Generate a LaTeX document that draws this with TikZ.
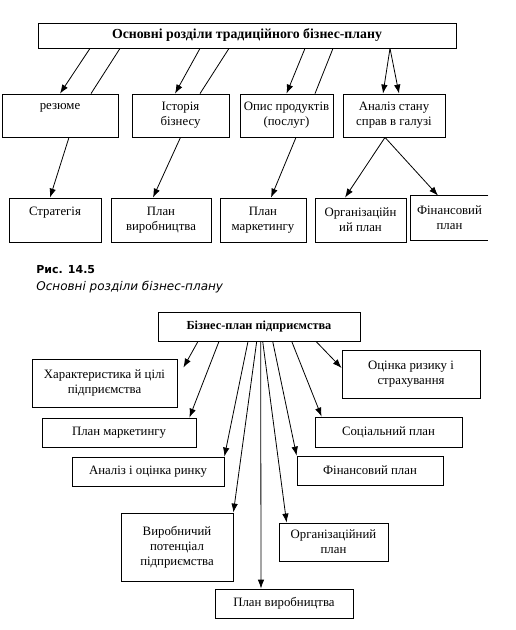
\documentclass[tikz,border=0pt]{standalone}
\usepackage{fontspec}
\setmainfont{Liberation Serif}
\newfontfamily\capfont{DejaVu Sans}
\usetikzlibrary{shapes,arrows.meta,calc}

\begin{document}
\begin{tikzpicture}[x=1pt, y=-1pt, line width=0.8pt, >={Latex[length=9pt,width=6.5pt]},
    box/.style={rectangle, draw, align=center, inner sep=1pt, font=\fontsize{12.8}{14.8}\selectfont},
    headbox/.style={box, font=\fontsize{13.8}{15}\selectfont\bfseries},
    capline/.style={anchor=west, inner sep=0pt}]
    \useasboundingbox (0,0) rectangle (515,630);

    % traditional plan
    \node (title) [headbox, minimum width=418pt, minimum height=25pt] at (247,35.5) {Основні розділи традиційного бізнес-плану};

    \node (rez) [box, minimum width=116pt, minimum height=43pt] at (60,115.5) {резюме\\\phantom{резюме}};
    \node (ist) [box, minimum width=97pt, minimum height=43pt] at (180.5,115.5) {Історія\\бізнесу};
    \node (opys) [box, minimum width=93pt, minimum height=43pt] at (286.5,115.5) {Опис продуктів\\(послуг)};
    \node (anal) [box, minimum width=102pt, minimum height=43pt] at (394,115.5) {Аналіз стану\\справ в галузі};

    \node (strat) [box, minimum width=92pt, minimum height=44pt] at (55,220) {Стратегія\\\phantom{Стратегія}};
    \node (pvyr) [box, minimum width=100pt, minimum height=44pt] at (161,220) {План\\виробництва};
    \node (pmark) [box, minimum width=86pt, minimum height=44pt] at (263,220) {План\\маркетингу};
    \node (org) [box, minimum width=91pt, minimum height=44pt] at (360.5,220) {Організаційн\\ий план};
    \node (fin) [box, draw=none, minimum width=77pt, minimum height=44pt] at (449.5,218) {Фінансовий\\план};
    \draw (fin.north east) -- (fin.north west) -- (fin.south west) -- (fin.south east);

    \draw [->] ([xshift=-157pt]title.south) -- (rez.north);
    \draw ([xshift=-127pt]title.south) -- ([xshift=31pt]rez.north);
    \draw [->] ([xshift=-47pt]title.south) -- ([xshift=-5.5pt]ist.north);
    \draw ([xshift=-18pt]title.south) -- ([xshift=19.5pt]ist.north);
    \draw [->] ([xshift=58pt]title.south) -- (opys.north);
    \draw ([xshift=86pt]title.south) -- ([xshift=28.5pt]opys.north);
    \draw [->] ([xshift=143pt]title.south) -- ([xshift=-11pt]anal.north);
    \draw [->] ([xshift=143pt]title.south) -- ([xshift=5pt]anal.north);

    \draw [->] ([xshift=9pt]rez.south) -- ([xshift=-5pt]strat.north);
    \draw [->] (ist.south) -- ([xshift=-8pt]pvyr.north);
    \draw [->] ([xshift=9.5pt]opys.south) -- ([xshift=8pt]pmark.north);
    \draw [->] ([xshift=-9pt]anal.south) -- ([xshift=-15.5pt]org.north);
    \draw [->] ([xshift=-9pt]anal.south) -- ([xshift=-11.5pt]fin.north);

    % caption
    \node (fig) [capline, font=\capfont\bfseries\fontsize{11}{13}\selectfont] at (36,270) {Рис. 14.5};
    \node (figtext) [capline, font=\capfont\itshape\fontsize{12}{14}\selectfont] at (36,287) {Основні розділи бізнес-плану};

    % enterprise plan
    \node (bp) [headbox, font=\fontsize{12.3}{14}\selectfont\bfseries, minimum width=202pt, minimum height=29pt] at (259,326.5) {Бізнес-план підприємства};

    \node (har) [box, minimum width=145pt, minimum height=48pt] at (104.5,383) {Характеристика й цілі\\підприємства};
    \node (mark) [box, minimum width=154pt, minimum height=29pt] at (119,432.5) {План маркетингу};
    \node (rynok) [box, minimum width=152pt, minimum height=29pt] at (148,471.5) {Аналіз і оцінка ринку};
    \node (potent) [box, minimum width=112pt, minimum height=68pt] at (177,547) {Виробничий\\потенціал\\підприємства};
    \node (vyrob) [box, minimum width=138pt, minimum height=29pt] at (284,603.5) {План виробництва};
    \node (orgpl) [box, minimum width=109pt, minimum height=38pt] at (333.5,542) {Організаційний\\план};
    \node (finpl) [box, minimum width=146pt, minimum height=29pt] at (370,470.5) {Фінансовий план};
    \node (soc) [box, minimum width=147pt, minimum height=30pt] at (388.5,432) {Соціальний план};
    \node (ryzyk) [box, minimum width=138pt, minimum height=48pt] at (411,374) {Оцінка ризику і\\страхування};

    \draw [->] ([xshift=-61pt]bp.south) -- ([xshift=6pt,yshift=-9pt]har.north east);
    \draw [->] ([xshift=-40pt]bp.south) -- ([xshift=-7pt]mark.north east);
    \draw [->] ([xshift=-11pt]bp.south) -- (rynok.north east);
    \draw [->] ([xshift=-2.3pt]bp.south) -- (potent.north east);
    \draw [->] ([xshift=1.7pt]bp.south) -- ([xshift=-23pt]vyrob.north);
    \draw [->] ([xshift=3.7pt]bp.south) -- ([xshift=8pt]orgpl.north west);
    \draw [->] ([xshift=13.7pt]bp.south) -- (finpl.north west);
    \draw [->] ([xshift=32.7pt]bp.south) -- ([xshift=7pt]soc.north west);
    \draw [->] ([xshift=57pt]bp.south) -- ([yshift=6pt]ryzyk.west);
\end{tikzpicture}
\end{document}
